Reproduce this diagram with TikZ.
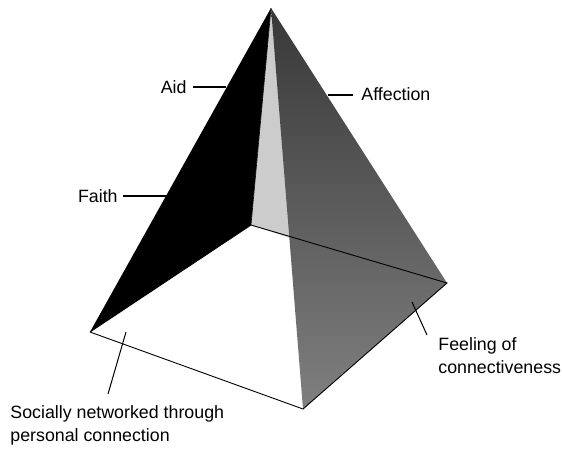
\documentclass[tikz,border=0pt]{standalone}
\usepackage{fontspec}
\setmainfont{Liberation Sans}
\usetikzlibrary{positioning,calc}

\begin{document}
\begin{tikzpicture}[x=1pt,y=-1pt,thick]
\tikzset{
  face/.style={line join=round},
  callout/.style={font=\fontsize{17.8}{23}\selectfont, align=left, inner sep=0pt},
  leader/.style={draw=black, line width=1.3pt}
}
\useasboundingbox (0,0) rectangle (562,448);

% Corners of the pyramid
\coordinate (apex) at (271,8);
\coordinate (left) at (90,332);
\coordinate (front) at (303,409);
\coordinate (right) at (447,283);
\coordinate (back) at (251,225);
\coordinate (inner) at (290,238);

% Faces
\fill[white] (left) -- (back) -- (right) -- (front) -- cycle;
\fill[face, fill=black] (apex) -- (left) -- (back) -- cycle;
\fill[face, fill=black!20] (apex) -- (back) -- (inner) -- cycle;
\shade[face, top color=black!78, bottom color=black!50] (apex) -- (right) -- (front) -- cycle;
\draw[line width=0.9pt] (left) -- (front) -- (right) -- (back) -- (left);
\draw[line width=0.6pt] (apex) -- (back);

% Labels
\node[callout, anchor=east] (aid) at (187,87) {Aid};
\node[callout, anchor=east] (faith) at (118,196) {Faith};
\node[callout, anchor=west] (affection) at (361,94) {Affection};
\node[callout, anchor=north west] (feeling) at (438,337) {Feeling of\\connectiveness};
\node[callout, anchor=north west] (social) at (10,405) {Socially networked through\\personal connection};

% Leaders
\coordinate (aidend) at (226,87);
\coordinate (faithend) at (167,196);
\coordinate (affectionend) at (328,95);
\coordinate (feelingend) at (412,302);
\coordinate (socialend) at (126,332);
\draw[leader] (aid.east)+(6,0) -- (aidend);
\draw[leader] (faith.east)+(5,0) -- (faithend);
\draw[leader] (affection.west)+(-8,1) -- (affectionend);
\draw[leader, line width=1pt] (feeling.north west)+(-11,-2) -- (feelingend);
\draw[leader, line width=1pt] (social.north west)+(98,-11) -- (socialend);
\end{tikzpicture}
\end{document}
